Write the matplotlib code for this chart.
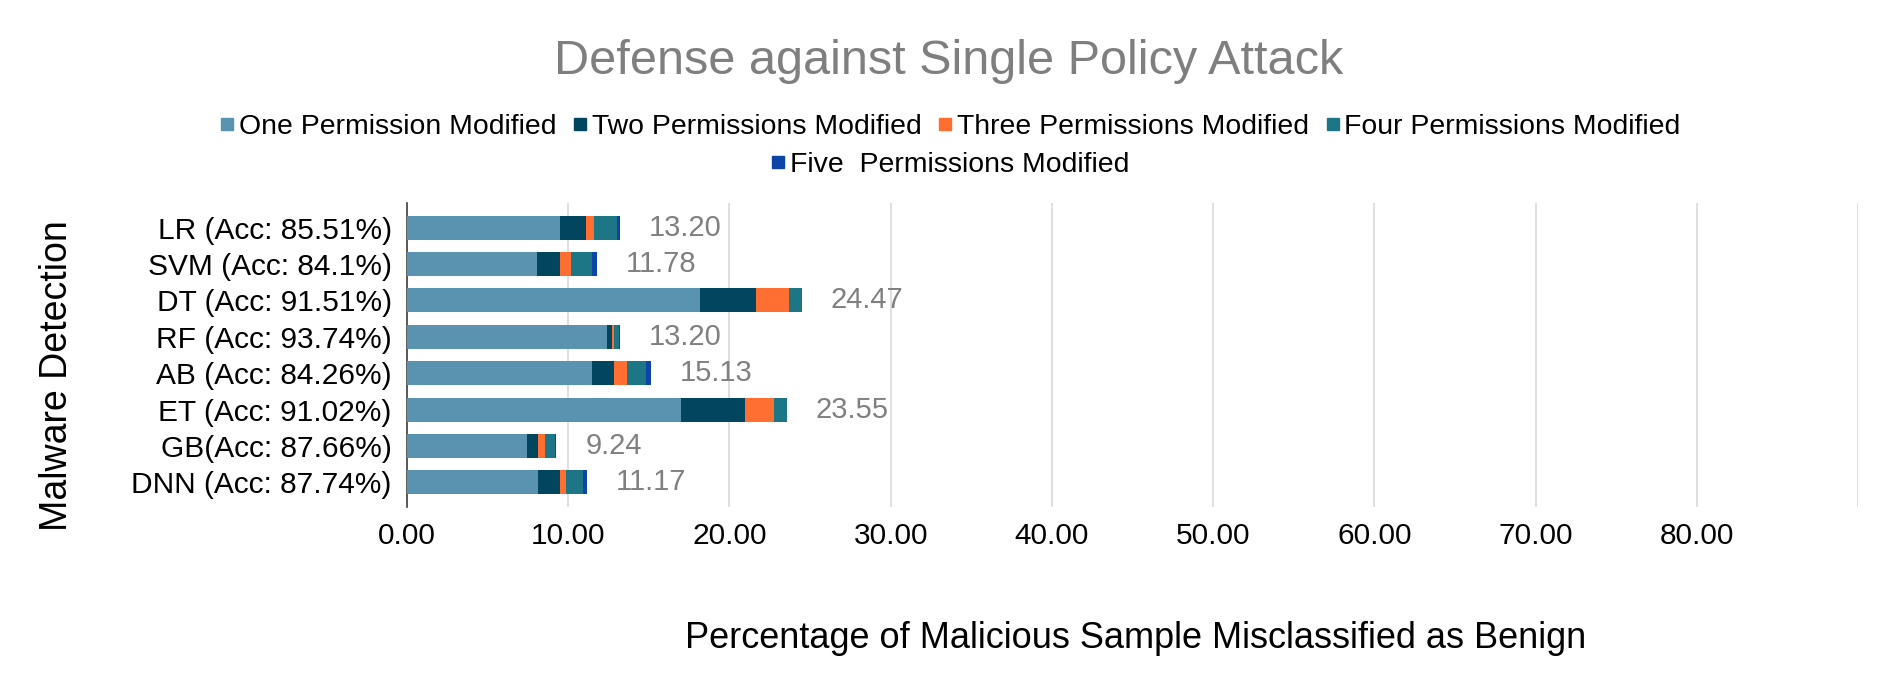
import matplotlib
matplotlib.use("Agg")
import matplotlib.pyplot as plt
from matplotlib.lines import Line2D

plt.rcParams['font.family'] = ['Liberation Sans', 'DejaVu Sans']

categories = ["LR (Acc: 85.51%)", "SVM (Acc: 84.1%)", "DT (Acc: 91.51%)", "RF (Acc: 93.74%)",
              "AB (Acc: 84.26%)", "ET (Acc: 91.02%)", "GB(Acc: 87.66%)", "DNN (Acc: 87.74%)"]
one_perm = [9.48, 8.05, 18.18, 12.40, 11.47, 17.00, 7.43, 8.12]
two_perm = [1.61, 1.43, 3.48, 0.31, 1.37, 3.98, 0.68, 1.37]
three_perm = [0.50, 0.68, 2.05, 0.12, 0.81, 1.80, 0.43, 0.37]
four_perm = [1.45, 1.30, 0.76, 0.29, 1.18, 0.77, 0.66, 1.08]
five_perm = [0.16, 0.32, 0.00, 0.08, 0.30, 0.00, 0.04, 0.23]
totals = [13.20, 11.78, 24.47, 13.20, 15.13, 23.55, 9.24, 11.17]
series_names = ["One Permission Modified", "Two Permissions Modified", "Three Permissions Modified",
                "Four Permissions Modified", "Five  Permissions Modified"]
colors = ["#5A93B0", "#02455F", "#FF6F31", "#1D7685", "#0C44A8"]
xticks = [0, 10, 20, 30, 40, 50, 60, 70, 80]

fig = plt.figure(figsize=(18.93, 6.87), dpi=100)
ax = fig.add_axes([0.215, 0.262, 0.9815 - 0.215, 0.7045 - 0.262])

series = [one_perm, two_perm, three_perm, four_perm, five_perm]
ypos = list(range(len(categories)))
left = [0.0] * len(categories)
for vals, name, c in zip(series, series_names, colors):
    ax.barh(ypos, vals, left=left, height=0.66, color=c, label=name, zorder=3)
    left = [l + v for l, v in zip(left, vals)]

for y, l, t in zip(ypos, left, totals):
    ax.annotate(f"{t:.2f}", xy=(l, y), xytext=(21, 0), textcoords="offset points",
                ha="left", va="center", fontsize=21, color="#808080")

ax.set_xlim(0, 90)
ax.set_ylim(len(categories) - 1 + 0.68, -0.68)
ax.set_yticks(ypos)
ax.set_yticklabels(categories, fontsize=21.5)
ax.set_xticks(xticks)
ax.set_xticklabels([f"{v:.2f}" for v in xticks], fontsize=21.5)
ax.set_xticks([90], minor=True)
ax.tick_params(axis='both', length=0, pad=11)
ax.tick_params(axis='x', which='minor', length=0)
ax.grid(axis='x', which='both', color="#D9D9D9", linewidth=1.2, zorder=0)
for s in ["top", "right", "bottom"]:
    ax.spines[s].set_visible(False)
ax.spines["left"].set_color("#404040")
ax.spines["left"].set_linewidth(1.2)

fig.text(0.501, 0.911, "Defense against Single Policy Attack", ha="center", va="center",
         fontsize=35, color="#7F7F7F")
fig.text(0.600, 0.071, "Percentage of Malicious Sample Misclassified as Benign", ha="center",
         va="center", fontsize=26)
fig.text(0.030, 0.453, "Malware Detection", ha="center", va="center", rotation=90, fontsize=27)

handles = [Line2D([0], [0], marker='s', linestyle='none', markersize=9, color=c) for c in colors]
leg1 = fig.legend(handles[:4], series_names[:4], loc="center", bbox_to_anchor=(0.502, 0.815),
                  ncol=4, frameon=False, fontsize=20.4, handlelength=0.5, handletextpad=0.15,
                  columnspacing=0.6, borderaxespad=0, borderpad=0)
fig.legend(handles[4:], series_names[4:], loc="center", bbox_to_anchor=(0.502, 0.760),
           ncol=1, frameon=False, fontsize=20.4, handlelength=0.5, handletextpad=0.15,
           borderaxespad=0, borderpad=0)

fig.savefig("out.png", dpi=100)
